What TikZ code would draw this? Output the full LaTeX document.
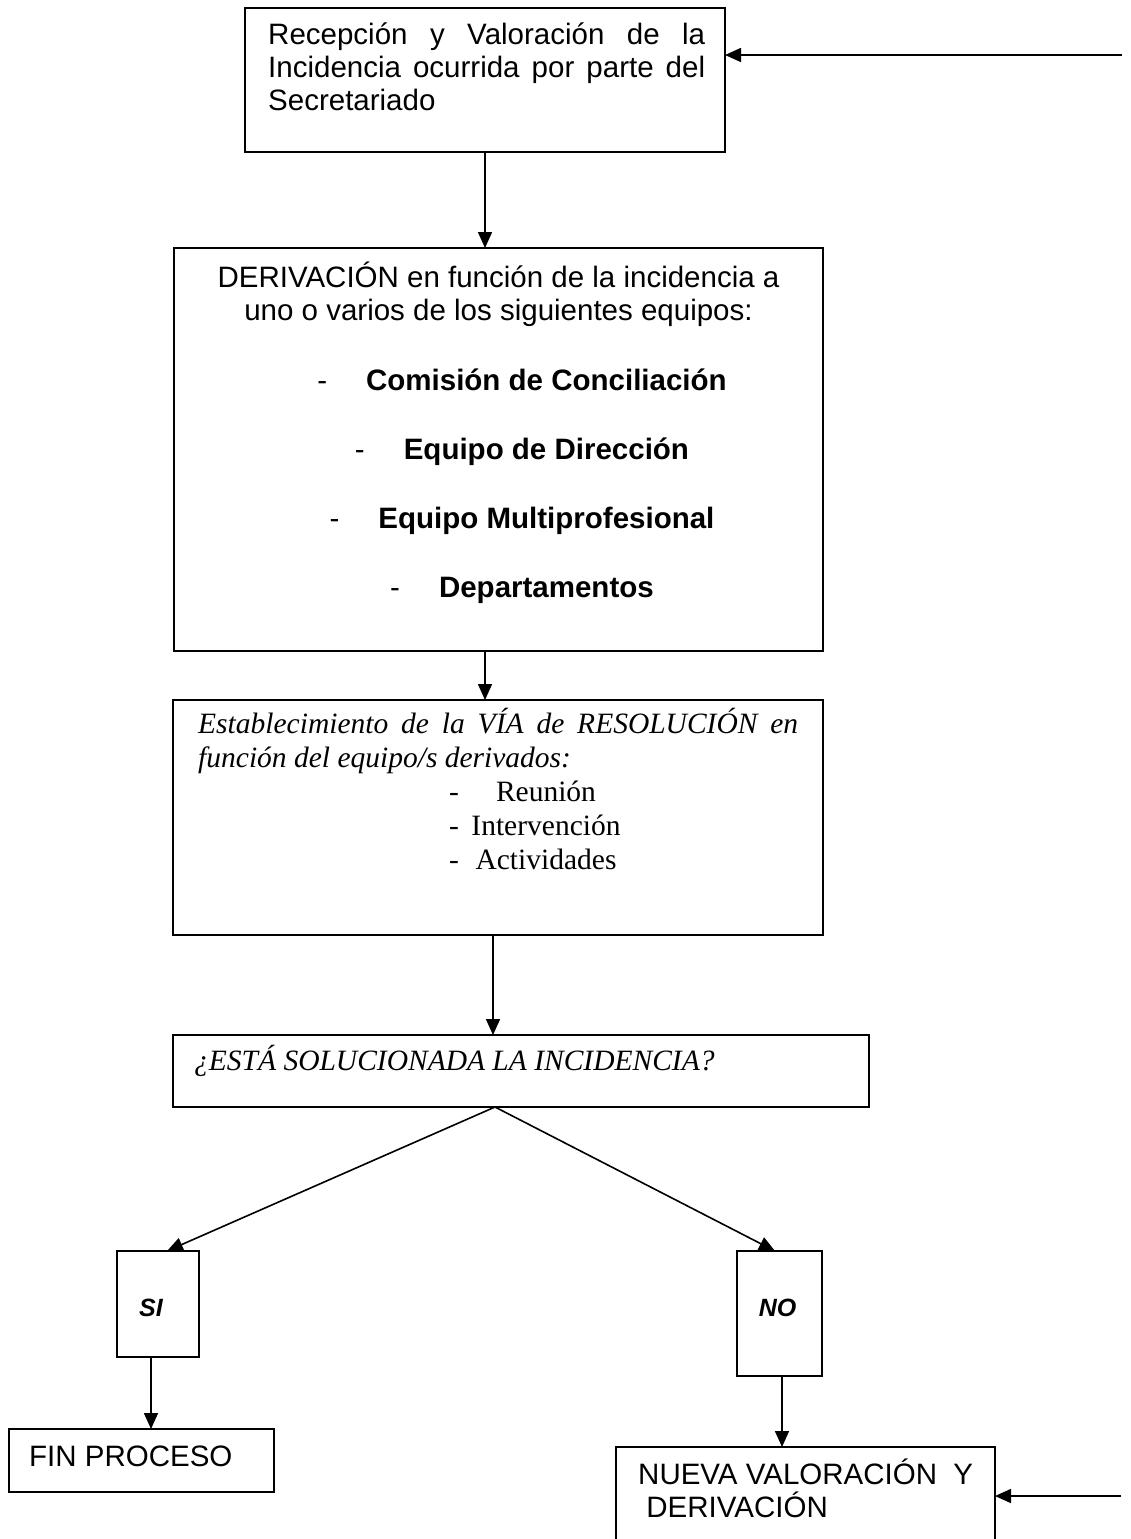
\documentclass[tikz,border=0pt]{standalone}
\usepackage{fontspec}
\setmainfont{Liberation Sans}
\newfontfamily\tnr{Liberation Serif}
\usetikzlibrary{arrows.meta}
\begin{document}
\begin{tikzpicture}[x=1pt,y=-1pt,
  box/.style={draw, line width=2pt, rectangle, inner sep=0pt, outer sep=0pt, anchor=north west},
  txt/.style={inner sep=0pt, anchor=base west, font=\fontsize{29.5}{33}\selectfont},
  ctxt/.style={inner sep=0pt, anchor=base, font=\fontsize{29.5}{33}\selectfont},
  serif/.style={font=\fontsize{29.5}{33}\selectfont\tnr},
  serifit/.style={font=\fontsize{29.5}{33}\selectfont\tnr\itshape},
  yesno/.style={inner sep=0pt, anchor=base, font=\fontsize{25}{28}\selectfont\bfseries\itshape},
  conn/.style={line width=1.6pt, -{Triangle[length=16pt,width=14pt]}}
]
\useasboundingbox (0,0) rectangle (1130,1539);
\clip (0,0) rectangle (1130,1539);

% boxes
\node[box, minimum width=480pt, minimum height=144pt] (b1) at (245,8) {};
\node[box, minimum width=649pt, minimum height=403pt] (b2) at (174,248) {};
\node[box, minimum width=650pt, minimum height=235pt] (b3) at (173,700) {};
\node[box, minimum width=696pt, minimum height=72pt] (b4) at (173,1035) {};
\node[box, minimum width=82pt, minimum height=106pt] (si) at (117,1251) {};
\node[box, minimum width=85pt, minimum height=125pt] (no) at (737,1251) {};
\node[box, minimum width=265pt, minimum height=63pt] (fin) at (9,1429) {};
\node[box, minimum width=379pt, minimum height=140pt] (nv) at (616,1447) {};

% texts box 1
\node[txt] (t1a) at (268,44) {\makebox[437pt][s]{Recepción y Valoración de la}};
\node[txt] (t1b) at (268,77) {\makebox[437pt][s]{Incidencia ocurrida por parte del}};
\node[txt] (t1c) at (268,110) {Secretariado};

% texts box 2
\node[ctxt] (t2a) at (498.5,287) {DERIVACIÓN en función de la incidencia a};
\node[ctxt] (t2b) at (498.5,320) {uno o varios de los siguientes equipos:};
\node[ctxt] (t2c) at (522,390) {-\hspace{39pt}\textbf{Comisión de Conciliación}};
\node[ctxt] (t2d) at (522,459) {-\hspace{39pt}\textbf{Equipo de Dirección}};
\node[ctxt] (t2e) at (522,528) {-\hspace{39pt}\textbf{Equipo Multiprofesional}};
\node[ctxt] (t2f) at (522,597) {-\hspace{39pt}\textbf{Departamentos}};

% texts box 3
\node[txt, serifit] (t3a) at (198,733) {\makebox[600pt][s]{Establecimiento de la VÍA de RESOLUCIÓN en}};
\node[txt, serifit] (t3b) at (198,767) {función del equipo/s derivados:};
\node[txt, serif] (d3a) at (449,801) {-};
\node[txt, serif] (d3b) at (449,835) {-};
\node[txt, serif] (d3c) at (449,869) {-};
\node[ctxt, serif] (t3c) at (546,801) {Reunión};
\node[ctxt, serif] (t3d) at (546,835) {Intervención};
\node[ctxt, serif] (t3e) at (546,869) {Actividades};

% box 4
\node[txt, serifit] (t4) at (194,1070) {¿ESTÁ SOLUCIONADA LA INCIDENCIA?};

% yes / no
\node[yesno] (tsi) at (151,1316) {SI};
\node[yesno] (tno) at (777.5,1316) {NO};

% end boxes
\node[txt] (tfin) at (29,1466) {FIN PROCESO};
\node[txt] (tnva) at (638,1484) {NUEVA VALORACIÓN\ \ Y};
\node[txt] (tnvb) at (638,1517) {\ DERIVACIÓN};

% connectors
\coordinate (in1) at (1122,55);
\coordinate (in2) at (1121,1496);
\coordinate (apex) at ([xshift=-26pt]b4.south);
\draw[conn] (in1) -- (in1 -| b1.east);
\draw[conn] (b1.south) -- (b1.south |- b2.north);
\draw[conn] (b2.south -| b1.south) -- (b3.north -| b1.south);
\draw[conn] ([xshift=-5pt]b3.south) -- ([xshift=-5pt]b3.south |- b4.north);
\draw[conn] (apex) -- ([xshift=9pt]si.north);
\draw[conn] (apex) -- ([xshift=-4.5pt]no.north);
\draw[conn] ([xshift=-7pt]si.south) -- ([xshift=-7pt]si.south |- fin.north);
\draw[conn] ([xshift=2.5pt]no.south) -- ([xshift=2.5pt]no.south |- nv.north);
\draw[conn] (in2) -- (in2 -| nv.east);
\end{tikzpicture}
\end{document}
